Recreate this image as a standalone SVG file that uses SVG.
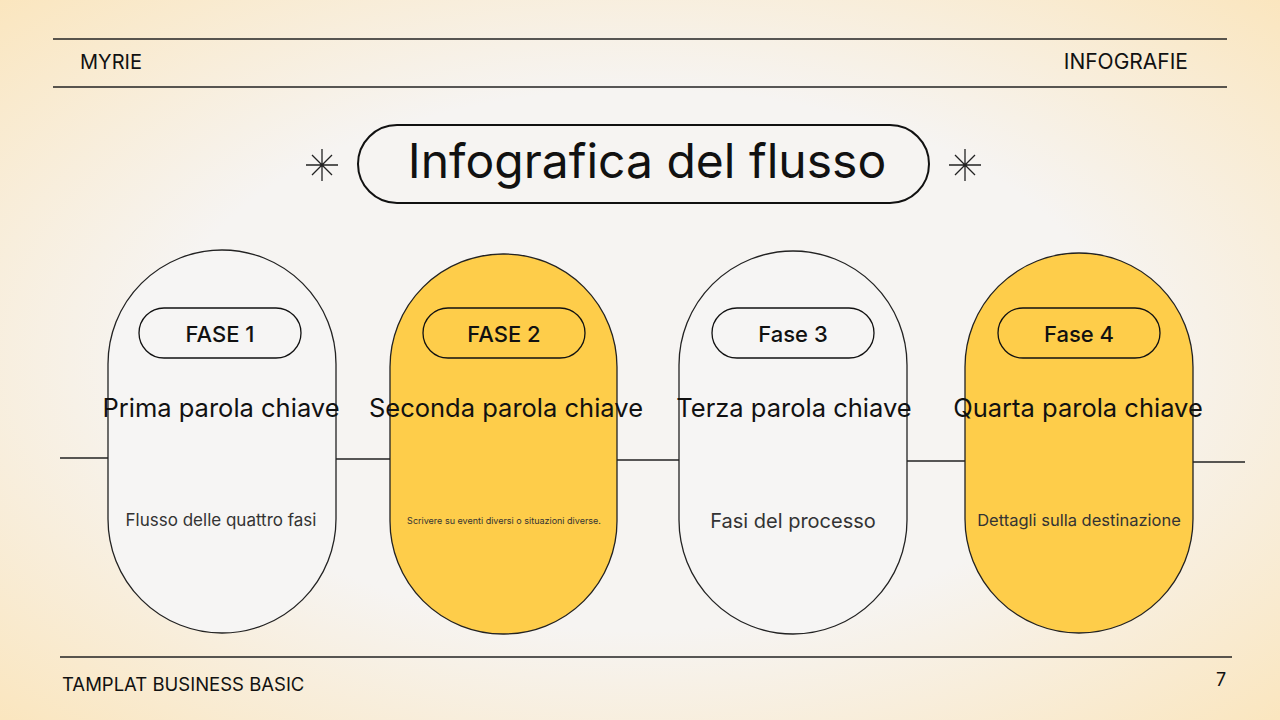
<svg xmlns="http://www.w3.org/2000/svg" width="1280" height="720" viewBox="0 0 1280 720">
<defs>
<radialGradient id="bg" cx="0.5" cy="0.5" r="0.75">
<stop offset="0.5" stop-color="#f6f4f2"/>
<stop offset="1" stop-color="#fbe4b8"/>
</radialGradient>
<g id="star"><path d="M-16 0H16M0-16V16M-10-10L10 10M-10 10L10-10" stroke="#222" stroke-width="1.3"/></g>
</defs>
<style>
text{font-family:Inter,"Noto Sans",sans-serif;fill:#111}
.ln{stroke:#222;stroke-width:1.5;fill:none}
.pill{stroke:#222;stroke-width:1.3}
.tag{fill:none;stroke:#111;stroke-width:1.3}
.fase{font-size:22px;font-weight:500;text-anchor:middle}
.kw{font-size:25.5px;text-anchor:middle}
.d{text-anchor:middle;fill:#333}
</style>
<rect width="1280" height="720" fill="url(#bg)"/>
<line class="ln" x1="53" y1="39" x2="1227" y2="39"/>
<line class="ln" x1="53" y1="87" x2="1227" y2="87"/>
<line class="ln" x1="60" y1="657" x2="1232" y2="657"/>
<text x="80" y="69" font-size="20">MYRIE</text>
<text x="1188" y="69" font-size="21" text-anchor="end">INFOGRAFIE</text>
<text x="62" y="691" font-size="18.5">TAMPLAT BUSINESS BASIC</text>
<text x="1221" y="686" font-size="18" text-anchor="middle">7</text>
<g id="title">
<rect x="358" y="125" width="571" height="78" rx="39" fill="none" stroke="#111" stroke-width="2"/>
<text x="647" y="178" font-size="48" text-anchor="middle">Infografica del flusso</text>
<use href="#star" x="322" y="165"/>
<use href="#star" x="965" y="165"/>
</g>
<g id="connectors" class="ln" stroke-width="1.2">
<line x1="60" y1="458" x2="108" y2="458"/>
<line x1="336" y1="459" x2="390" y2="459"/>
<line x1="617" y1="460" x2="679" y2="460"/>
<line x1="907" y1="461" x2="965" y2="461"/>
<line x1="1193" y1="462" x2="1245" y2="462"/>
</g>
<g id="node1">
<rect class="pill" x="108" y="250" width="228" height="383" rx="114" fill="#f6f5f4"/>
<rect class="tag" x="139" y="308" width="162" height="50" rx="25"/>
<text class="fase" x="220" y="342">FASE 1</text>
<text class="kw" x="221" y="417">Prima parola chiave</text>
<text class="d" x="221" y="526" style="font-size:17px">Flusso delle quattro fasi</text>
</g>
<g id="node2">
<rect class="pill" x="390" y="254" width="227" height="380" rx="113" fill="#fecd4a"/>
<rect class="tag" x="423" y="308" width="162" height="50" rx="25"/>
<text class="fase" x="504" y="342">FASE 2</text>
<text class="kw" x="506" y="417">Seconda parola chiave</text>
<text class="d" x="504" y="524" style="font-size:9px">Scrivere su eventi diversi o situazioni diverse.</text>
</g>
<g id="node3">
<rect class="pill" x="679" y="251" width="228" height="383" rx="114" fill="#f6f5f4" stroke="#777" stroke-width="2"/>
<rect class="tag" x="712" y="308" width="162" height="50" rx="25"/>
<text class="fase" x="793" y="342">Fase 3</text>
<text class="kw" x="794" y="417">Terza parola chiave</text>
<text class="d" x="793" y="528" style="font-size:20px">Fasi del processo</text>
</g>
<g id="node4">
<rect class="pill" x="965" y="253" width="228" height="380" rx="114" fill="#fecd4a"/>
<rect class="tag" x="998" y="308" width="162" height="50" rx="25"/>
<text class="fase" x="1079" y="342">Fase 4</text>
<text class="kw" x="1078" y="417">Quarta parola chiave</text>
<text class="d" x="1079" y="526" style="font-size:16.5px">Dettagli sulla destinazione</text>
</g>
</svg>
